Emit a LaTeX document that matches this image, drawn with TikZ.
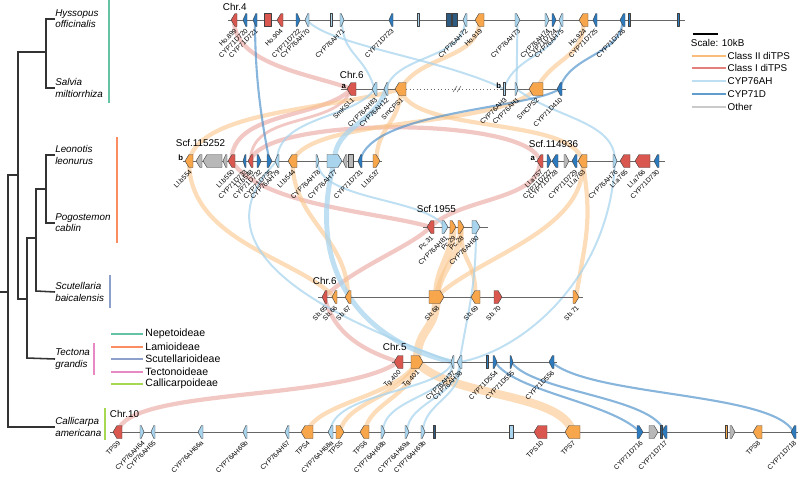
\documentclass[tikz,border=0pt]{standalone}
\usepackage{fontspec}
\setmainfont{Liberation Sans}
\usetikzlibrary{positioning}
\definecolor{TpsII}{HTML}{F8A64B}
\definecolor{TpsI}{HTML}{D9574F}
\definecolor{AH}{HTML}{A9D4ED}
\definecolor{DD}{HTML}{2C7BBF}
\definecolor{Oth}{HTML}{B8B8B8}
\definecolor{Nv}{HTML}{2E5B82}
\definecolor{Nep}{HTML}{66C2A5}
\definecolor{Lam}{HTML}{FC8D62}
\definecolor{Scu}{HTML}{8DA0CB}
\definecolor{Tec}{HTML}{E78AC3}
\definecolor{Cal}{HTML}{A6D854}
\pgfdeclarelayer{bg}
\pgfsetlayers{bg,main}

% gene arrow: name, x1, x2, y, dir (1 right, -1 left, 0 box), fill, label
\newcommand{\gene}[7]{%
  \pgfmathsetmacro{\gw}{#3-#2}%
  \pgfmathsetmacro{\gh}{min(4,0.7*\gw)}%
  \ifnum#5=1
    \draw[gbox,fill=#6] (#2,#4-6.5) -- (#3-\gh,#4-6.5) -- (#3,#4) -- (#3-\gh,#4+6.5) -- (#2,#4+6.5) -- cycle;
  \else\ifnum#5=-1
    \draw[gbox,fill=#6] (#3,#4-6.5) -- (#2+\gh,#4-6.5) -- (#2,#4) -- (#2+\gh,#4+6.5) -- (#3,#4+6.5) -- cycle;
  \else
    \draw[gbox,fill=#6] (#2,#4-6.5) rectangle (#3,#4+6.5);
  \fi\fi
  \coordinate (#1) at ({(#2+#3)/2},#4);
  \node[glab] (#1l) at ({(#2+#3)/2+2},#4+9.5) {#7};
}

\begin{document}
\begin{tikzpicture}[x=0.025cm,y=-0.025cm,
    gbox/.style={draw=black!75,line width=0.3pt,line join=round},
    glab/.style={rotate=45,anchor=east,inner sep=0.2pt,font=\fontsize{4.8}{4.8}\selectfont},
    trk/.style={draw=black!60,line width=0.5pt},
    chr/.style={anchor=south west,inner sep=0.5pt,font=\fontsize{7}{7}\selectfont},
    ab/.style={anchor=east,inner sep=0.5pt,font=\fontsize{5.5}{5.5}\selectfont\bfseries},
    sp/.style={anchor=west,align=left,inner sep=0pt,font=\fontsize{7}{8}\selectfont\itshape},
    tree/.style={draw=black!80,line width=1.1pt},
    cbar/.style={line width=1.3pt},
    lgt/.style={inner sep=0.5pt,font=\fontsize{7}{7}\selectfont},
    rO/.style={draw=TpsII!65,draw opacity=0.6,line width=#1},rO/.default=3pt,
    rR/.style={draw=TpsI!55,draw opacity=0.6,line width=#1},rR/.default=3pt,
    rA/.style={draw=AH,draw opacity=0.75,line width=#1},rA/.default=1.4pt,
    rD/.style={draw=DD!80,draw opacity=0.7,line width=#1},rD/.default=1.5pt
  ]
  \useasboundingbox (0,0) rectangle (800,476);

  % species tree
  \node[sp] (hyss) at (55,19) {Hyssopus\\officinalis};
  \node[sp] (salv) at (55,88) {Salvia\\miltiorrhiza};
  \node[sp] (leon) at (55,155) {Leonotis\\leonurus};
  \node[sp] (pogo) at (55,223) {Pogostemon\\cablin};
  \node[sp] (scut) at (55,292) {Scutellaria\\baicalensis};
  \node[sp] (tect) at (55,359) {Tectona\\grandis};
  \node[sp] (call) at (55,427) {Callicarpa\\americana};
  \draw[tree] (hyss.west) -| (46,88) -- (salv.west);
  \draw[tree] (46,52) -| (18,299) -- (27,299);
  \draw[tree] (leon.west) -| (46,223) -- (pogo.west);
  \draw[tree] (46,189) -| (36,291) -- (scut.west);
  \draw[tree] (36,238) -| (27,358) -- (tect.west);
  \draw[tree] (18,175) -| (8,427) -- (call.west);
  \draw[tree] (8,292) -- (0,292);

  % clade bars
  \draw[cbar,Nep] (109,0) -- (109,103);
  \draw[cbar,Lam] (117,137) -- (117,243);
  \draw[cbar,Scu] (110,275) -- (110,308);
  \draw[cbar,Tec] (94,343) -- (94,375);
  \draw[cbar,Cal] (105,408) -- (105,440);
  \foreach \i/\yy/\col/\txt in {1/334/Nep/Nepetoideae,2/347/Lam/Lamioideae,
      3/359/Scu/Scutellarioideae,4/372/Tec/Tectonoideae,5/384/Cal/Callicarpoideae}{
    \coordinate (cl\i) at (111,\yy);
    \coordinate (cle\i) at (143,\yy);
    \draw[cbar,\col] (cl\i) -- (cle\i);
    \node[lgt,font=\fontsize{7.5}{7.5}\selectfont,right=1pt of cle\i] (clt\i) {\txt};
  }

  % Hyssopus Chr.4
  \draw[trk] (228,20) -- (685,20);
  \node[chr] (chr4) at (222,12) {Chr.4};
  \foreach \n/\a/\b/\d/\c/\t in {ho899/231/237/-1/TpsI/Ho.899, d720/243/247/-1/DD/CYP71D720,
      d721/253/257/-1/DD/CYP71D721, g1a/264/271/0/TpsI/{}, ho904/277/283/-1/TpsI/Ho.904,
      d722/296/300/1/DD/CYP71D722, ah70/305/309/-1/AH/CYP76AH70, g1b/330/332/0/AH/{},
      ah71/340/344/1/AH/CYP76AH71, d723/389/393/-1/DD/CYP71D723, g1c/417/419/0/AH/{},
      g1d/446/451/0/Nv/{}, g1e/452/457/0/Nv/{}, ah72/463/467/-1/AH/CYP76AH72,
      ho919/475/484/-1/TpsII/Ho.919, ah73/515/520/1/AH/CYP76AH73, ah74/545/549/1/AH/CYP76AH74,
      d724/552/556/1/DD/CYP71D724, ah75/559/563/-1/AH/CYP76AH75, ho924/579/588/-1/TpsII/Ho.924,
      d725/593/597/-1/DD/CYP71D725, d726/620/625/-1/DD/CYP71D726, g1f/628/630/0/DD/{},
      g1g/677/679/0/DD/{}}{
    \gene{\n}{\a}{\b}{20}{\d}{\c}{\t}
  }

  % Salvia Chr.6
  \draw[trk] (341,89) -- (406,89);
  \draw[trk,dotted] (406,89) -- (500,89);
  \draw[trk] (500,89) -- (566,89);
  \draw[black!60,line width=0.4pt] (453,92) -- (457,86) (457,92) -- (461,86);
  \node[chr] (chr6s) at (339,80) {Chr.6};
  \node[ab] (sa) at (347,86) {a};
  \node[ab] (sb) at (502,86) {b};
  \foreach \n/\a/\b/\d/\c/\t in {smksl1/347/356/-1/TpsI/SmKSL1, smah83/372/377/-1/AH/CYP76AH83,
      smah12/384/388/-1/AH/CYP76AH12, smcps1/395/406/-1/TpsII/SmCPS1, ah3/503/505/0/AH/CYP76AH3,
      ah1/515/518/1/AH/CYP76AH1, smcps2/529/543/-1/TpsII/SmCPS2, d410/557/562/-1/DD/CYP71D410}{
    \gene{\n}{\a}{\b}{89}{\d}{\c}{\t}
  }

  % Leonotis Scf.115252
  \draw[trk] (183,161) -- (382,161);
  \node[chr] (scfa) at (175,148) {Scf.115252};
  \node[ab] (lb) at (184,158) {b};
  \foreach \n/\a/\b/\d/\c/\t in {llb554/185/193/-1/TpsII/Ll.b554, g3a/196/202/-1/Oth/{},
      g3b/203/222/-1/Oth/{}, g3c/223/227/-1/Oth/{}, llb550/228/235/-1/TpsI/Ll.b550,
      d733/243/246/-1/DD/CYP71D733, llb548/248/253/-1/TpsI/Ll.b548, d732/257/261/1/DD/CYP71D732,
      d735/267/272/1/DD/CYP71D735, llah79/275/279/-1/AH/CYP76AH79, llb544/288/297/-1/TpsII/Ll.b544,
      llah78/316/319/1/AH/CYP76AH78, llah77/327/342/1/AH/CYP76AH77, g3d/343/347/-1/Oth/{},
      g3e/348/353/0/Oth/{}, d731/358/362/-1/DD/CYP71D731, llb537/373/380/1/TpsII/Ll.b537}{
    \gene{\n}{\a}{\b}{161}{\d}{\c}{\t}
  }

  % Leonotis Scf.114936
  \draw[trk] (535,161) -- (665,161);
  \node[chr] (scfb) at (528,149) {Scf.114936};
  \node[ab] (la) at (536,158) {a};
  \foreach \n/\a/\b/\d/\c/\t in {lla757/537/543/-1/TpsI/Ll.a757, d727/547/551/1/DD/CYP71D727,
      d728/552/558/-1/DD/CYP71D728, g4a/564/569/1/Oth/{}, d729/572/577/-1/DD/CYP71D729,
      lla763/578/587/-1/TpsII/Ll.a763, llah76/613/617/1/AH/CYP76AH76, lla765/620/630/-1/TpsI/Ll.a765,
      lla766/635/650/-1/TpsI/Ll.a766, d730/654/659/-1/DD/CYP71D730}{
    \gene{\n}{\a}{\b}{161}{\d}{\c}{\t}
  }

  % Pogostemon Scf.1955
  \draw[trk] (423,227) -- (488,227);
  \node[chr] (scfc) at (416,214) {Scf.1955};
  \foreach \n/\a/\b/\d/\c/\t in {pc31/427/434/-1/TpsI/Pc.31, pcah81/442/448/1/AH/CYP76AH81,
      pc29/450/456/1/TpsII/Pc.29, pc28/458/464/1/TpsII/Pc.28, pcah80/472/480/1/AH/CYP76AH80}{
    \gene{\n}{\a}{\b}{227}{\d}{\c}{\t}
  }

  % Scutellaria Chr.6
  \draw[trk] (318,297) -- (583,297);
  \node[chr] (chr6b) at (312,286) {Chr.6};
  \foreach \n/\a/\b/\d/\c/\t in {sb65/322/327/-1/TpsI/Sb.65, sb66/332/337/-1/TpsII/Sb.66,
      sb67/345/351/-1/TpsII/Sb.67, sb68/429/444/1/TpsII/Sb.68, sb69/471/480/-1/TpsII/Sb.69,
      sb70/494/502/1/TpsI/Sb.70, sb71/573/579/1/TpsII/Sb.71}{
    \gene{\n}{\a}{\b}{297}{\d}{\c}{\t}
  }

  % Tectona Chr.5
  \draw[trk] (392,362) -- (557,362);
  \node[chr] (chr5) at (382,352) {Chr.5};
  \foreach \n/\a/\b/\d/\c/\t in {tg400/394/403/-1/TpsI/Tg.400, tg401/411/423/1/TpsII/Tg.401,
      tgah37/451/454/-1/AH/CYP76AH37, tgah38/457/462/-1/AH/CYP76AH38, g7a/486/488/0/DD/{},
      d554/493/497/1/DD/CYP71D554, d555/510/513/1/DD/CYP71D555, d556/549/554/-1/DD/CYP71D556}{
    \gene{\n}{\a}{\b}{362}{\d}{\c}{\t}
  }

  % Callicarpa Chr.10
  \draw[trk] (110,432) -- (798,432);
  \node[chr] (chr10) at (109,419) {Chr.10};
  \foreach \n/\a/\b/\d/\c/\t in {tps9/113/122/-1/TpsI/TPS9, cah64/140/144/1/AH/CYP76AH64,
      cah65/151/155/-1/AH/CYP76AH65, cah66a/198/203/-1/AH/CYP76AH66a, cah66b/243/247/-1/AH/CYP76AH66b,
      cah67/285/289/-1/AH/CYP76AH67, tps4/301/313/-1/TpsII/TPS4, cah68a/328/333/-1/AH/CYP76AH68a,
      tps5/336/344/1/TpsII/TPS5, tps6/360/369/-1/TpsII/TPS6, cah68b/381/385/1/AH/CYP76AH68b,
      cah69a/405/409/1/AH/CYP76AH69a, cah69b/421/425/1/AH/CYP76AH69b, g8a/433/435/0/Nv/{},
      g8b/509/513/0/AH/{}, tps10/534/547/-1/TpsI/TPS10, tps7/565/580/-1/TpsII/TPS7,
      d716/637/643/1/DD/CYP71D716, g8c/649/658/1/Oth/{}, g8d/660/662/0/Nv/{},
      d717/662/667/-1/DD/CYP71D717, g8e/725/727/0/TpsII/{}, g8f/730/735/1/Oth/{},
      tps8/753/762/-1/TpsII/TPS8, d718/791/796/-1/DD/CYP71D718}{
    \gene{\n}{\a}{\b}{432}{\d}{\c}{\t}
  }

  % legend
  \coordinate (sc1) at (693,34);
  \coordinate (sc2) at (718,34);
  \draw[line width=0.9pt] (sc1) -- (sc2);
  \node[lgt,anchor=west] (sct) at (690,43) {Scale: 10kB};
  \foreach \i/\yy/\col/\txt in {1/56/TpsII/{Class II diTPS},2/68/TpsI/{Class I diTPS},
      3/81/AH/CYP76AH,4/94/DD/CYP71D,5/107/Oth/Other}{
    \coordinate (lg\i) at (692,\yy);
    \coordinate (lge\i) at (726,\yy);
    \draw[line width=1.4pt,\col!75] (lg\i) -- (lge\i);
    \node[lgt,right=0.5pt of lge\i] (lgt\i) {\txt};
  }

  % synteny ribbons
  \begin{pgfonlayer}{bg}
    % class I diTPS
    \draw[rR] (ho899) .. controls +(0,45) and +(-40,-15) .. (smksl1);
    \draw[rR] (smksl1) .. controls +(-30,30) and +(0,-50) .. (llb550);
    \draw[rR=2pt] (smksl1) .. controls +(-15,40) and +(0,-50) .. (llb548);
    \draw[rR] (llb548) .. controls +(10,-45) and +(-10,-45) .. (lla757);
    \draw[rR] (llb550) .. controls +(30,45) and +(-50,-15) .. (pc31);
    \draw[rR] (lla757) .. controls +(0,40) and +(30,-30) .. (pc31);
    \draw[rR] (pc31) .. controls +(-20,20) and +(30,-30) .. (sb65);
    \draw[rR] (sb65) .. controls +(10,40) and +(-30,-10) .. (tg400);
    \draw[rR] (tg400) .. controls +(-60,40) and +(10,-45) .. (tps9);
    % class II diTPS
    \draw[rO] (ho919) .. controls +(0,40) and +(20,-35) .. (smcps1);
    \draw[rO] (ho924) .. controls +(0,40) and +(20,-35) .. (smcps2);
    \draw[rO] (llb554) .. controls +(11,-51) and +(-70,21) .. (smcps1);
    \draw[rO] (llb544) .. controls +(20,-45) and +(-40,40) .. (smcps2);
    \draw[rO] (smcps1) .. controls +(10,45) and +(-10,-45) .. (lla763);
    \draw[rO] (llb537) .. controls +(0,-35) and +(0,35) .. (smcps1);
    \draw[rO] (lla763) .. controls +(10,60) and +(10,-60) .. (sb71);
    \draw[rO] (lla763) .. controls +(5,70) and +(40,-40) .. (sb68);
    \draw[rO=5pt] (pc29) .. controls +(0,30) and +(0,-30) .. (sb68);
    \draw[rO=4pt] (pc28) .. controls +(0,30) and +(5,-30) .. (sb68);
    \draw[rO=6pt] (sb68) .. controls +(0,35) and +(0,-35) .. (tg401);
    \draw[rO=6pt] (tg401) .. controls +(30,35) and +(-10,-40) .. (tps7);
    \draw[rO] (tg401) .. controls +(-20,35) and +(10,-30) .. (tps4);
    \draw[rO] (tg401) .. controls +(-15,35) and +(5,-30) .. (tps5);
    \draw[rO] (tg401) .. controls +(-5,35) and +(5,-30) .. (tps6);
    \draw[rO] (llb554) .. controls +(0,80) and +(-40,-40) .. (sb66);
    \draw[rO] (llb544) .. controls +(0,60) and +(0,-60) .. (sb67);
    \draw[rO] (sb69) .. controls +(0,-40) and +(0,40) .. (pc28);
    % CYP76AH
    \draw[rA] (ah70) .. controls +(20,25) and +(-60,-30) .. (ah3);
    \draw[rA] (ah71) .. controls +(0,35) and +(-10,-35) .. (smah83);
    \draw[rA] (ah72) .. controls +(0,40) and +(10,-35) .. (smah12);
    \draw[rA] (ah73) .. controls +(0,35) and +(0,-35) .. (ah1);
    \draw[rA] (ah75) .. controls +(0,35) and +(10,-35) .. (ah3);
    \draw[rA] (smah83) .. controls +(-20,30) and +(0,-45) .. (llah79);
    \draw[rA=3.5pt] (smah12) .. controls +(-10,35) and +(0,-35) .. (llah77);
    \draw[rA=3.5pt] (llah77) .. controls +(-30,110) and +(-90,-20) .. (tgah37);
    \draw[rA] (llah78) .. controls +(0,40) and +(-20,-30) .. (pcah81);
    \draw[rA] (llah79) .. controls +(-100,100) and +(-80,-30) .. (tgah37);
    \draw[rA] (ah1) .. controls +(40,30) and +(0,-40) .. (llah76);
    \draw[rA] (llah76) .. controls +(-5,120) and +(60,-10) .. (tgah38);
    \draw[rA] (pcah80) .. controls +(0,60) and +(10,-60) .. (tgah38);
    \draw[rA] (tgah37) .. controls +(0,35) and +(0,-35) .. (cah68b);
    \draw[rA] (tgah37) .. controls +(-10,30) and +(0,-40) .. (cah68a);
    \draw[rA] (tgah38) .. controls +(0,35) and +(0,-30) .. (cah69a);
    \draw[rA] (tgah38) .. controls +(5,35) and +(0,-30) .. (cah69b);
    % CYP71D
    \draw[rD] (d721) .. controls +(0,50) and +(-10,-50) .. (d735);
    \draw[rD] (d726) .. controls +(0,35) and +(10,-35) .. (d410);
    \draw[rD] (d410) .. controls +(-30,20) and +(10,-50) .. (d731);
    \draw[rD] (d554) .. controls +(20,30) and +(-30,-30) .. (d716);
    \draw[rD] (d555) .. controls +(20,30) and +(-10,-35) .. (d717);
    \draw[rD] (d556) .. controls +(40,35) and +(-20,-40) .. (d718);
  \end{pgfonlayer}
\end{tikzpicture}
\end{document}
